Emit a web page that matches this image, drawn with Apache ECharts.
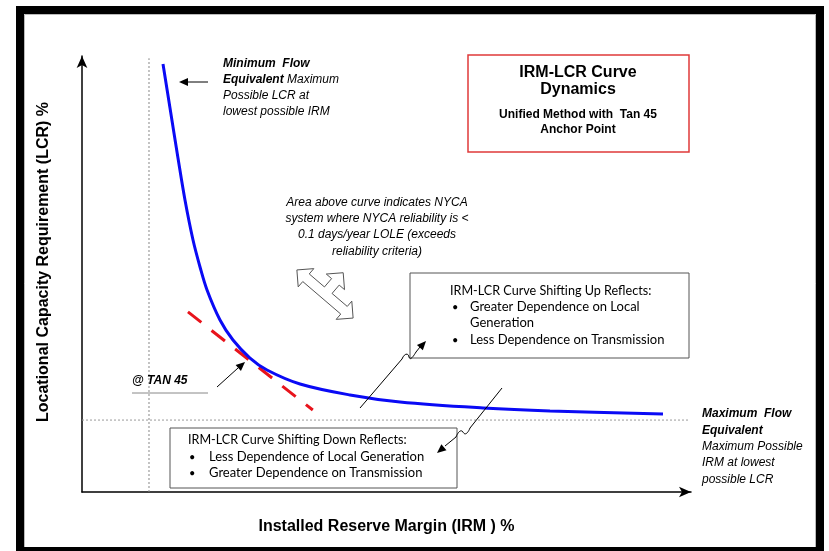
<!DOCTYPE html>
<html><head><meta charset="utf-8">
<script src="https://cdn.jsdelivr.net/npm/echarts@6/dist/echarts.min.js"></script>
<style>html,body{margin:0;padding:0;background:#fff}#c{width:829px;height:551px}</style>
</head><body><div id="c"></div>
<script>
// ---- data (conceptual units 0..100) ----
var curveIRM = [13.30, 14.45, 15.76, 16.91, 18.23, 19.38, 20.53, 22.66, 24.79, 27.59, 30.38, 35.80, 44.01, 52.22, 65.85, 76.85, 95.40];
var curveLCR = [98.17, 88.07, 76.61, 66.97, 57.80, 51.61, 46.33, 39.45, 34.86, 30.73, 27.98, 24.77, 22.25, 20.64, 19.27, 18.58, 17.89];
var tanIRM = [17.4, 37.9];
var tanLCR = [41.3, 18.8];
var minFlowIRM = 11.0;   // vertical dotted guide
var minFlowTop = 99.5;
var maxFlowLCR = 16.5;   // horizontal dotted guide
var maxFlowRight = 99.8;
var xName = 'Installed Reserve Margin (IRM ) %';
var yName = 'Locational Capacity Requirement (LCR) %';

function zip(a, b) { return a.map(function (v, i) { return [v, b[i]]; }); }

var chart = echarts.init(document.getElementById('c'), null, {renderer: 'canvas'});

var AR = '"Liberation Sans", Arial, sans-serif';
var CAL = 'Lato, "Noto Sans", sans-serif';

function head(x1, y1, x2, y2, len, half) {
  var dx = x2 - x1, dy = y2 - y1, d = Math.sqrt(dx * dx + dy * dy);
  var ux = dx / d, uy = dy / d, px = -uy, py = ux;
  var bx = x2 - ux * len, by = y2 - uy * len;
  return {type: 'polygon', shape: {points: [[x2, y2], [bx + px * half, by + py * half], [bx - px * half, by - py * half]]},
    style: {fill: '#000'}, z: 20};
}
function line(pts, color, w) {
  return {type: 'polyline', shape: {points: pts}, style: {stroke: color || '#000', lineWidth: w || 1, fill: null}, z: 20};
}
function bez(x1, y1, c1x, c1y, c2x, c2y, x2, y2) {
  return {type: 'bezierCurve', shape: {x1: x1, y1: y1, cpx1: c1x, cpy1: c1y, cpx2: c2x, cpy2: c2y, x2: x2, y2: y2},
    style: {stroke: '#000', lineWidth: 1, fill: null}, z: 20};
}
function txt(x, y, t, font, opt) {
  opt = opt || {};
  return {type: 'text', x: x, y: y, z: 30, style: {text: t, font: font, fill: opt.fill || '#000',
    align: opt.align || 'left', verticalAlign: opt.va || 'middle', lineHeight: opt.lh, rich: opt.rich}};
}

// three-way hollow arrow
function tripleArrow(cx, cy) {
  var ux = 0.76, uy = 0.65, vx = 0.65, vy = -0.76;
  var S = 37, h = 12, L = 12, w = 5, B = 28;
  var loc = [[-S, 0], [-S + L, h], [-S + L, w], [-w, w], [-w, B - L], [-h, B - L], [0, B], [h, B - L], [w, B - L], [w, w],
    [S - L, w], [S - L, h], [S, 0], [S - L, -h], [S - L, -w], [-S + L, -w], [-S + L, -h]];
  var pts = loc.map(function (p) { return [cx + p[0] * ux + p[1] * vx, cy + p[0] * uy + p[1] * vy]; });
  return {type: 'polygon', shape: {points: pts}, style: {fill: '#fff', stroke: '#555', lineWidth: 1}, z: 20};
}

var graphics = [
  // outer frame
  {type: 'rect', shape: {x: 20, y: 10, width: 800, height: 541}, style: {fill: null, stroke: '#000', lineWidth: 8}, z: 50},
  {type: 'rect', shape: {x: 24.5, y: 14.5, width: 791, height: 540}, style: {fill: null, stroke: '#bbb', lineWidth: 1}, z: 49},
  // min flow text + arrow
  txt(223, 56, '{b|Minimum  Flow}\n{b|Equivalent} {i|Maximum}\n{i|Possible LCR at}\n{i|lowest possible IRM}', AR,
    {va: 'top', lh: 16, rich: {b: {font: 'italic bold 12px ' + AR, lineHeight: 16}, i: {font: 'italic 12px ' + AR, lineHeight: 16}}}),
  line([[208, 82], [186, 82]]), head(208, 82, 179, 82, 9, 4),
  // red title box
  {type: 'rect', shape: {x: 468, y: 55, width: 221, height: 97}, style: {fill: '#fff', stroke: '#e03a3a', lineWidth: 1.5}, z: 10},
  txt(578, 73, 'IRM-LCR Curve', 'bold 16px ' + AR, {align: 'center'}),
  txt(578, 90, 'Dynamics', 'bold 16px ' + AR, {align: 'center'}),
  txt(578, 115, 'Unified Method with  Tan 45', 'bold 12px ' + AR, {align: 'center'}),
  txt(578, 130, 'Anchor Point', 'bold 12px ' + AR, {align: 'center'}),
  // area text
  txt(377, 203, 'Area above curve indicates NYCA', 'italic 12px ' + AR, {align: 'center'}),
  txt(377, 219, 'system where NYCA reliability is <', 'italic 12px ' + AR, {align: 'center'}),
  txt(377, 235, '0.1 days/year LOLE (exceeds', 'italic 12px ' + AR, {align: 'center'}),
  txt(377, 252, 'reliability criteria)', 'italic 12px ' + AR, {align: 'center'}),
  tripleArrow(325, 294),
  // shifting up box
  {type: 'rect', shape: {x: 410, y: 273, width: 279, height: 85}, style: {fill: '#fff', stroke: '#555', lineWidth: 1}, z: 10},
  txt(450, 291, 'IRM-LCR Curve Shifting Up Reflects:', '12.6px ' + CAL),
  txt(452, 307, '•', '11px ' + CAL), txt(470, 307, 'Greater Dependence on Local', '13px ' + CAL),
  txt(470, 323, 'Generation', '13px ' + CAL),
  txt(452, 340, '•', '11px ' + CAL), txt(470, 340, 'Less Dependence on Transmission', '13px ' + CAL),
  line([[360, 408], [402, 359]]),
  bez(402, 359, 404, 354, 408, 352, 409, 357),
  bez(409, 357, 410, 361, 413, 357, 416, 352),
  line([[416, 352], [420, 347]]), head(414, 354, 426, 341, 9, 4),
  // shifting down box
  {type: 'rect', shape: {x: 170, y: 428, width: 287, height: 60}, style: {fill: '#fff', stroke: '#555', lineWidth: 1}, z: 10},
  txt(188, 440, 'IRM-LCR Curve Shifting Down Reflects:', '12.6px ' + CAL),
  txt(189, 457, '•', '11px ' + CAL), txt(209, 457, 'Less Dependence of Local Generation', '13px ' + CAL),
  txt(189, 473, '•', '11px ' + CAL), txt(209, 473, 'Greater Dependence on Transmission', '13px ' + CAL),
  line([[502, 388], [470, 428]]),
  bez(470, 428, 468, 433, 465, 436, 463, 432),
  bez(463, 432, 461, 429, 458, 432, 456, 437),
  line([[456, 437], [445, 446]]), head(455, 438, 437, 453, 9, 4),
  // tan 45 label
  txt(132, 381, '@ TAN 45', 'italic bold 12px ' + AR),
  line([[132, 393], [208, 393]], '#888', 1),
  line([[217, 387], [238, 368]]), head(217, 387, 245, 362, 9, 4),
  // max flow text
  txt(702, 406, '{b|Maximum  Flow}\n{b|Equivalent}\n{i|Maximum Possible}\n{i|IRM at lowest}\n{i|possible LCR}', AR,
    {va: 'top', lh: 16.3, rich: {b: {font: 'italic bold 12px ' + AR, lineHeight: 16.3}, i: {font: 'italic 12px ' + AR, lineHeight: 16.3}}})
];

var option = {
  backgroundColor: '#fff',
  animation: false,
  grid: {left: 82, right: 138, top: 56, bottom: 59},
  xAxis: {type: 'value', min: 0, max: 100, name: xName, nameLocation: 'middle', nameGap: 27,
    nameTextStyle: {fontFamily: AR, fontWeight: 'bold', fontSize: 16, color: '#000'},
    axisLine: {show: true, symbol: ['none', 'arrow'], symbolSize: [8, 12], lineStyle: {color: '#000', width: 1.5}},
    axisTick: {show: false}, axisLabel: {show: false}, splitLine: {show: false}},
  yAxis: {type: 'value', min: 0, max: 100, name: yName, nameLocation: 'middle', nameGap: 30,
    nameTextStyle: {fontFamily: AR, fontWeight: 'bold', fontSize: 16, color: '#000', padding: [0, 0, 0, 24]},
    axisLine: {show: true, symbol: ['none', 'arrow'], symbolSize: [8, 12], lineStyle: {color: '#000', width: 1.5}},
    axisTick: {show: false}, axisLabel: {show: false}, splitLine: {show: false}},
  series: [
    {type: 'line', data: [[minFlowIRM, 0], [minFlowIRM, minFlowTop]], symbol: 'none', silent: true,
      lineStyle: {color: '#888', width: 1, type: [2, 2]}, z: 1},
    {type: 'line', data: [[0, maxFlowLCR], [maxFlowRight, maxFlowLCR]], symbol: 'none', silent: true,
      lineStyle: {color: '#999', width: 1, type: [2, 2]}, z: 1},
    {type: 'line', data: zip(tanIRM, tanLCR), symbol: 'none', lineStyle: {color: '#e8141c', width: 3, type: [17, 13]}, z: 3},
    {type: 'line', data: zip(curveIRM, curveLCR), symbol: 'none', smooth: 0.35, lineStyle: {color: '#0a0af5', width: 3}, z: 4}
  ],
  graphic: graphics
};
chart.setOption(option);
</script></body></html>
